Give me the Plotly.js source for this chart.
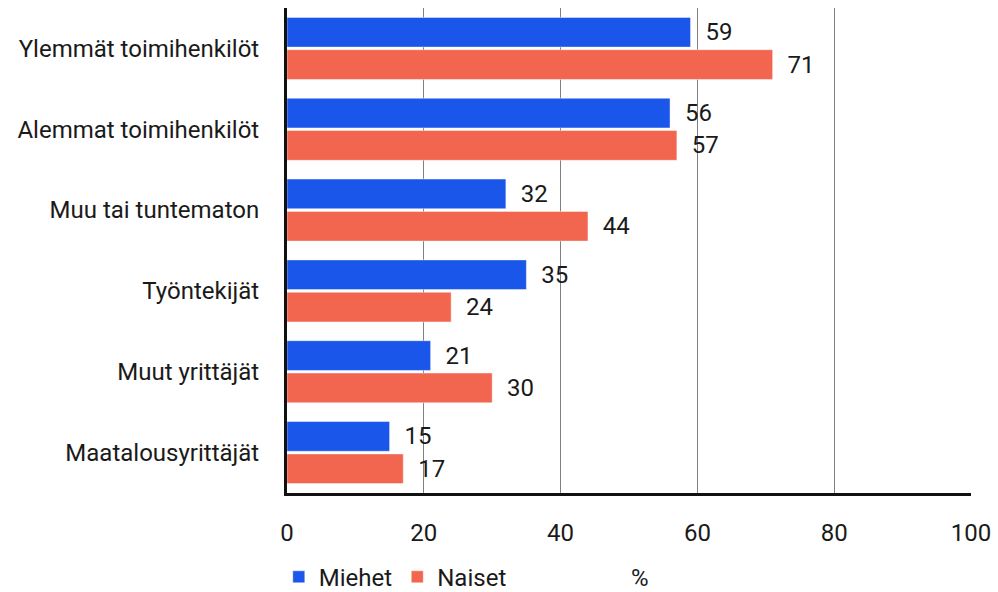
<!DOCTYPE html>
<html><head><meta charset="utf-8">
<script src="https://cdn.plot.ly/plotly-3.0.1.min.js"></script>
<style>body{margin:0;background:#fff}#c{width:998px;height:592px}</style>
</head><body><div id="c"></div>
<script>
const categories = ["Ylemmät toimihenkilöt","Alemmat toimihenkilöt","Muu tai tuntematon","Työntekijät","Muut yrittäjät","Maatalousyrittäjät"];
const miehet = [59,56,32,35,21,15];
const naiset = [71,57,44,24,30,17];
const xTicks = [0,20,40,60,80,100];
const FONT = "Roboto, 'Open Sans', sans-serif";
const FS = 24;
const NB = "\u00a0\u00a0";
function tr(name, vals, color){
  return {type:'bar', orientation:'h', name:name, x:vals, y:categories,
    marker:{color:color, line:{color:'rgba(255,255,255,0.45)', width:1}},
    text:vals.map(v=>NB+v), textposition:'outside', cliponaxis:false,
    textfont:{family:FONT,size:FS,color:'#1a1a1a'}, hoverinfo:'skip'};
}
const data=[tr('Miehet',miehet,'#1b56ea'), tr('Naiset',naiset,'#f2654e')];
const layout={
  width:998,height:592,margin:{l:287,r:27,t:8,b:99,autoexpand:false},
  paper_bgcolor:'#fff',plot_bgcolor:'#fff',
  font:{family:FONT,size:FS,color:'#1a1a1a'},
  barmode:'group',bargap:0.2,bargroupgap:0.08,
  xaxis:{range:[0,100],tickvals:xTicks,ticktext:xTicks.map(String),showgrid:true,gridcolor:'#808080',gridwidth:1,
    zeroline:false,showline:true,linecolor:'#111',linewidth:3,ticks:'',ticklabelstandoff:16,automargin:false,
    tickfont:{family:FONT,size:FS,color:'#1a1a1a'},fixedrange:true},
  yaxis:{autorange:'reversed',showline:true,linecolor:'#111',linewidth:3,ticks:'',ticklabelstandoff:20,showgrid:false,automargin:false,
    tickfont:{family:FONT,size:FS,color:'#1a1a1a'},fixedrange:true},
  annotations:[{text:'%',xref:'paper',yref:'paper',x:0.516,y:-0.175,xanchor:'center',yanchor:'middle',showarrow:false,
    font:{family:FONT,size:FS,color:'#1a1a1a'}}],
  showlegend:true,
  legend:{orientation:'h',x:-0.012,xanchor:'left',y:-0.22,yanchor:'bottom',font:{family:FONT,size:FS,color:'#1a1a1a'},itemwidth:30,tracegroupgap:0}
};
Plotly.newPlot('c',data,layout,{staticPlot:true});
</script></body></html>
